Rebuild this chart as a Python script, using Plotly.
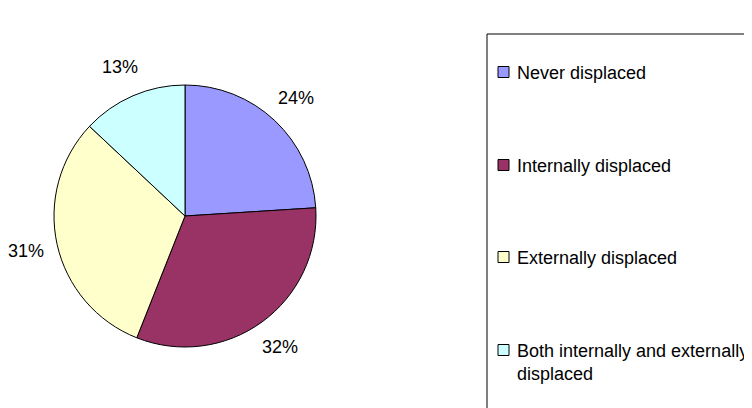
import math
import plotly.graph_objects as go

labels = ["Never displaced", "Internally displaced", "Externally displaced",
          "Both internally and externally displaced"]
legend_text = ["Never displaced", "Internally displaced", "Externally displaced",
               "Both internally and externally<br>displaced"]
values = [24, 32, 31, 13]
colors = ["#9999FF", "#993366", "#FFFFCC", "#CCFFFF"]

W, H = 752, 408
FONT = "Liberation Sans, Arial, sans-serif"
FS = 18
# page body margin offset
OX, OY = 8, 7

cx, cy, r = 185 - OX, 215 - OY, 131

fig = go.Figure()
fig.add_trace(go.Pie(
    labels=labels, values=values, sort=False, direction="clockwise", rotation=0,
    marker=dict(colors=colors, line=dict(color="black", width=1)),
    textinfo="none", hoverinfo="label+percent",
    showlegend=False, automargin=False,
    domain=dict(x=[(cx - r) / W, (cx + r) / W], y=[(H - cy - r) / H, (H - cy + r) / H]),
))

# outside percentage labels, placed from the slice mid-angles
total = sum(values)
cum = 0
rl = r * 1.24
for v in values:
    mid = (cum + v / 2) / total * 2 * math.pi
    cum += v
    lx = cx + rl * math.sin(mid)
    ly = cy - rl * math.cos(mid)
    fig.add_annotation(xref="paper", yref="paper", x=lx / W, y=(H - ly) / H,
                       xanchor="center", yanchor="middle", showarrow=False,
                       text=f"{round(v / total * 100)}%",
                       font=dict(family=FONT, size=FS, color="black"))

# legend box
fig.add_shape(type="rect", xref="paper", yref="paper",
              x0=(487 - OX) / W, x1=(W + 10) / W, y0=-10 / H, y1=(H - 33 + OY) / H,
              line=dict(color="black", width=1), fillcolor="rgba(0,0,0,0)")
ys = [71, 164, 256, 349]
for txt, col, yy in zip(legend_text, colors, ys):
    yy = yy - OY
    fig.add_shape(type="rect", xref="paper", yref="paper",
                  x0=(498 - OX) / W, x1=(509 - OX) / W,
                  y0=(H - yy - 5.5) / H, y1=(H - yy + 5.5) / H,
                  line=dict(color="black", width=1), fillcolor=col)
    fig.add_annotation(xref="paper", yref="paper", x=(515 - OX) / W, y=(H - yy + 11) / H,
                       xanchor="left", yanchor="top", align="left", showarrow=False,
                       text=txt, font=dict(family=FONT, size=FS, color="black"))

fig.update_layout(width=W, height=H, margin=dict(l=0, r=0, t=0, b=0),
                  paper_bgcolor="white", plot_bgcolor="white")
fig.write_html("out.html")
